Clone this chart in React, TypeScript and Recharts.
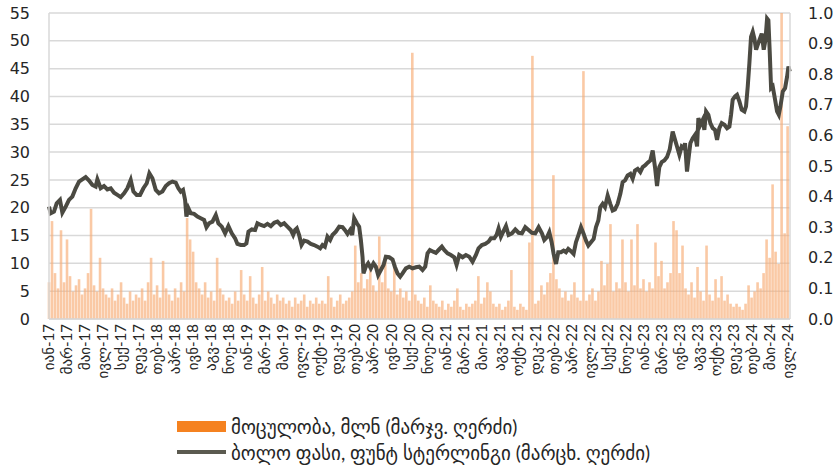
import { ComposedChart, Bar, Line, XAxis, YAxis, CartesianGrid } from "recharts";

// tick labels, one every 2.2 months starting Jan 2017
const tickLabels = [
  "იან-17", "მარ-17", "მაი-17", "ივლ-17", "სექ-17", "დეკ-17", "თებ-18", "აპრ-18", "ივნ-18", "აგვ-18",
  "ნოე-18", "იან-19", "მარ-19", "მაი-19", "ივლ-19", "ოქტ-19", "დეკ-19", "თებ-20", "აპრ-20", "ივნ-20",
  "სექ-20", "ნოე-20", "იან-21", "მარ-21", "მაი-21", "აგვ-21", "ოქტ-21", "დეკ-21", "თებ-22", "აპრ-22",
  "ივლ-22", "სექ-22", "ნოე-22", "იან-23", "მარ-23", "ივნ-23", "აგვ-23", "ოქტ-23", "დეკ-23", "თებ-24",
  "მაი-24", "ივლ-24",
];
const TICK_STEP = 2.2; // months between labels
const VOL_STEP = 0.3667; // months between volume samples

// closing price, [months since Jan 2017, GBP]
const price: [number, number][] = [
  [0, 20.2], [0.2, 19.0], [0.61, 19.3], [0.94, 20.8], [1.34, 21.4], [1.63, 19.1], [2.04, 20.2], [2.44, 21.4],
  [2.85, 22.0], [3.26, 23.5], [3.67, 24.7], [4.07, 25.1], [4.48, 25.5], [4.89, 24.9], [5.3, 24.1], [5.7, 23.8],
  [5.91, 25.1], [6.31, 23.5], [6.72, 23.9], [7.13, 23.3], [7.54, 23.5], [7.94, 22.7], [8.35, 22.3], [8.76, 21.9],
  [9.17, 22.6], [9.57, 23.5], [9.98, 25.0], [10.31, 22.9], [10.71, 22.3], [11.12, 22.3], [11.53, 23.5], [11.94, 24.4],
  [12.26, 26.2], [12.63, 25.3], [13.04, 23.2], [13.44, 22.6], [13.85, 22.9], [14.26, 23.9], [14.66, 24.4],
  [15.07, 24.7], [15.48, 24.5], [15.8, 23.5], [16.09, 22.9], [16.37, 23.2], [16.62, 21.4], [16.78, 18.4], [17.03, 19.9],
  [17.31, 19.0], [17.72, 18.9], [18.13, 18.4], [18.53, 18.1], [18.94, 17.8], [19.23, 16.5], [19.55, 17.2], [19.96, 17.5],
  [20.37, 18.7], [20.69, 17.2], [21.1, 16.6], [21.51, 15.4], [21.91, 16.7], [22.32, 15.4], [22.73, 14.5], [23.01, 13.5],
  [23.42, 13.3], [23.83, 13.3], [24.11, 13.6], [24.36, 15.7], [24.77, 16.1], [25.17, 16.0], [25.46, 17.2], [25.87, 16.9],
  [26.27, 16.7], [26.68, 17.1], [27.09, 16.7], [27.5, 17.3], [27.9, 17.5], [28.31, 16.9], [28.72, 17.2], [29.12, 16.6],
  [29.53, 16.0], [29.82, 15.1], [30.06, 16.0],
  [30.27, 16.3], [30.55, 15.1], [30.84, 13.3], [31.16, 14.1], [31.57, 13.9], [31.98, 13.5], [32.38, 13.3], [32.79, 13.0],
  [33.12, 12.7], [33.4, 13.3], [33.69, 13.0], [34.01, 14.8], [34.34, 14.2], [34.62, 15.1], [35.03, 15.7], [35.44, 16.6],
  [35.85, 16.5], [36.13, 16.0], [36.46, 15.3], [36.78, 16.0], [37.03, 15.1], [37.27, 18.1], [37.6, 17.2], [37.88, 16.6],
  [38.09, 14.2], [38.29, 11.2], [38.41, 8.2], [38.7, 9.4], [38.98, 10.0], [39.31, 9.1], [39.63, 10.0], [39.92, 9.4],
  [40.2, 7.9], [40.53, 8.8], [40.86, 9.7], [41.14, 11.2], [41.55, 11.1], [41.96, 10.7], [42.24, 9.4], [42.57, 8.2],
  [42.89, 7.6], [43.18, 8.2], [43.59, 9.1], [43.99, 9.4], [44.4, 9.1], [44.81, 9.3], [45.21, 9.4],
  [45.62, 8.8], [45.95, 9.4], [46.23, 11.8], [46.52, 12.4], [46.92, 12.1], [47.25, 11.9], [47.58, 12.4], [47.98, 13.0],
  [48.27, 12.4], [48.68, 11.8], [49.08, 11.5], [49.49, 11.1], [49.78, 9.7], [50.1, 11.5], [50.51, 11.1], [50.92, 11.5],
  [51.32, 11.2], [51.73, 10.3], [52.14, 11.5], [52.46, 12.7], [52.87, 13.3], [53.28, 13.5], [53.69, 13.9], [53.97, 14.5],
  [54.38, 14.5], [54.66, 15.1], [54.91, 16.3], [55.19, 14.8], [55.48, 15.7], [55.81, 16.7], [56.13, 15.1], [56.54, 15.4],
  [56.95, 16.1], [57.35, 15.5], [57.76, 15.4], [58.17, 16.5], [58.57, 16.0], [58.98, 15.5], [59.39, 15.4], [59.8, 16.5],
  [60.2, 15.4], [60.49, 14.2],
  [60.82, 14.7], [61.1, 15.6], [61.39, 13.8], [61.63, 11.7], [61.92, 9.9], [62.2, 12.0], [62.53, 12.0], [62.85, 12.3],
  [63.14, 12.0], [63.42, 12.6], [63.75, 12.2], [64.07, 11.7], [64.36, 13.8], [64.64, 15.0], [64.97, 16.5], [65.3, 15.3],
  [65.58, 14.1], [65.87, 13.2], [66.19, 13.8], [66.52, 14.4], [66.8, 16.5], [67.09, 17.7], [67.33, 20.1], [67.62, 20.7],
  [67.9, 20.1], [68.23, 22.2], [68.55, 20.7], [68.84, 19.5], [69.12, 19.7], [69.45, 20.7], [69.78, 22.5], [70.06, 24.6],
  [70.35, 24.9], [70.67, 25.8], [71.0, 26.1], [71.28, 25.2], [71.57, 26.7], [71.89, 27.0], [72.22, 26.4], [72.51, 27.3],
  [72.79, 27.6], [73.12, 28.1], [73.44, 28.5], [73.73, 30.3], [74.01, 27.3], [74.26, 23.9], [74.54, 27.3], [74.83, 28.2],
  [75.15, 28.5], [75.48, 29.1], [75.81, 30.5],
  [76.17, 33.7], [76.46, 32.2], [76.7, 31.0], [76.99, 29.5], [77.27, 31.0], [77.52, 30.7], [77.68, 31.6], [77.92, 26.5],
  [78.09, 28.6], [78.33, 31.6], [78.62, 32.5], [78.9, 33.1], [79.15, 31.0], [79.31, 36.1], [79.55, 34.9], [79.84, 35.8],
  [80.04, 34.0], [80.25, 37.3], [80.53, 36.7], [80.77, 35.2], [81.06, 34.3], [81.34, 34.0], [81.59, 32.2], [81.87, 34.3],
  [82.16, 35.2], [82.49, 34.9], [82.81, 34.3], [83.1, 34.6], [83.3, 36.7], [83.5, 39.4], [83.79, 40.0], [84.03, 40.3],
  [84.32, 39.1], [84.6, 37.6], [84.93, 37.3], [85.13, 38.2], [85.34, 41.8], [85.54, 46.0], [85.74, 50.7], [85.95, 51.6],
  [86.15, 50.4], [86.36, 48.4], [86.56, 49.3], [86.76, 50.1], [87.05, 51.3], [87.29, 48.4], [87.5, 50.1], [87.7, 54.0],
  [87.86, 53.7], [88.03, 47.8], [88.19, 41.5], [88.39, 41.8], [88.68, 39.4], [88.92, 37.3], [89.13, 36.7], [89.33, 38.2],
  [89.62, 40.9], [89.9, 41.5], [90.15, 43.6], [90.31, 45.4], [90.47, 44.5],
];

// traded volume, millions, one sample every VOL_STEP months
const volume = [
  0.12, 0.32, 0.15, 0.10, 0.29, 0.12, 0.26, 0.14, 0.09, 0.11,
  0.13, 0.08, 0.10, 0.15, 0.36, 0.11, 0.09, 0.20, 0.10, 0.08,
  0.07, 0.10, 0.06, 0.08, 0.12, 0.07, 0.05, 0.09, 0.06, 0.08,
  0.07, 0.10, 0.06, 0.12, 0.20, 0.08, 0.11, 0.07, 0.19, 0.10,
  0.08, 0.06, 0.10, 0.07, 0.12, 0.09, 0.33, 0.26, 0.22, 0.12,
  0.10, 0.08, 0.12, 0.07, 0.09, 0.06, 0.20, 0.10, 0.08, 0.06,
  0.07, 0.05, 0.09, 0.06, 0.16, 0.08, 0.06, 0.14, 0.07, 0.05,
  0.08, 0.17, 0.06, 0.09, 0.07, 0.05, 0.08, 0.06, 0.07, 0.05,
  0.06, 0.04, 0.07, 0.05, 0.06, 0.08, 0.04, 0.06, 0.05, 0.07,
  0.05, 0.06, 0.05, 0.14, 0.07, 0.04, 0.06, 0.08, 0.05, 0.06,
  0.07, 0.09, 0.24, 0.12, 0.15, 0.10, 0.13, 0.16, 0.11, 0.09,
  0.27, 0.12, 0.20, 0.10, 0.09, 0.18, 0.08, 0.10, 0.07, 0.09,
  0.06, 0.87, 0.08, 0.06, 0.05, 0.07, 0.04, 0.11, 0.06, 0.05,
  0.04, 0.06, 0.03, 0.05, 0.04, 0.06, 0.10, 0.04, 0.03, 0.05,
  0.04, 0.05, 0.06, 0.14, 0.05, 0.07, 0.12, 0.09, 0.05, 0.04,
  0.05, 0.03, 0.04, 0.06, 0.16, 0.04, 0.03, 0.05, 0.04, 0.03,
  0.25, 0.86, 0.05, 0.06, 0.11, 0.08, 0.12, 0.15, 0.47, 0.13,
  0.10, 0.07, 0.09, 0.06, 0.08, 0.12, 0.07, 0.06, 0.81, 0.06,
  0.08, 0.10, 0.06, 0.09, 0.19, 0.11, 0.18, 0.31, 0.09, 0.12,
  0.10, 0.26, 0.12, 0.09, 0.26, 0.11, 0.31, 0.10, 0.13, 0.09,
  0.12, 0.10, 0.25, 0.14, 0.19, 0.10, 0.12, 0.15, 0.32, 0.29,
  0.15, 0.24, 0.10, 0.08, 0.12, 0.07, 0.17, 0.09, 0.06, 0.24,
  0.08, 0.06, 0.13, 0.07, 0.14, 0.06, 0.08, 0.05, 0.04, 0.05,
  0.04, 0.03, 0.05, 0.11, 0.07, 0.09, 0.12, 0.10, 0.15, 0.26,
  0.20, 0.44, 0.22, 0.18, 1.0, 0.28, 0.63,
];

const leftTicks = [0, 5, 10, 15, 20, 25, 30, 35, 40, 45, 50, 55];
const rightTicks = [0, 0.1, 0.2, 0.3, 0.4, 0.5, 0.6, 0.7, 0.8, 0.9, 1.0];

const FONT = "Lato, 'DejaVu Sans', sans-serif";
const NUM_FONT = "'DejaVu Sans', sans-serif";
const TEXT = "#262626";
const GRID = "#d9d9d9";
const ORANGE = "#f58220";
const LINE = "#4b4a42";

const data = [
  ...price.map(([t, p]) => ({ t, price: p })),
  ...volume.map((v, i) => ({ t: +(i * VOL_STEP).toFixed(3), vol: v })),
].sort((a, b) => a.t - b.t);

const tickPos = tickLabels.map((_, i) => +(i * TICK_STEP).toFixed(2));

function MonthTick({ x, y, payload }: any) {
  const label = tickLabels[Math.round(payload.value / TICK_STEP)];
  return (
    <g transform={`translate(${x},${y})`}>
      <text
        x={-3}
        y={0}
        dy="0.35em"
        transform="rotate(-90)"
        textAnchor="end"
        fontSize={15}
        fill={TEXT}
        fontFamily={FONT}
      >
        {label}
      </text>
    </g>
  );
}

// thin volume stick, centred on its date whatever band size the numeric axis gives
function VolStick(props: any) {
  const { x, y, width, height } = props;
  if (height == null || !isFinite(height) || height <= 0) return null;
  const cx = x + (width || 0) / 2;
  return <rect x={cx - 1.3} y={y} width={2.6} height={height} fill="#f8ac74" fillOpacity={0.65} />;
}

export default function App() {
  return (
    <div style={{ position: "absolute", left: 0, top: 0, width: 840, height: 468, background: "#fff", fontFamily: FONT }}>
      <ComposedChart width={840} height={468} data={data} margin={{ top: 13, right: 0, bottom: 0, left: 0 }}>
        <CartesianGrid yAxisId="left" vertical={false} stroke={GRID} strokeWidth={1.5} />
        <XAxis
          dataKey="t"
          type="number"
          domain={[0, 90.5]}
          ticks={tickPos}
          interval={0}
          height={149}
          tick={<MonthTick />}
          tickLine={false}
          tickSize={0}
          axisLine={{ stroke: GRID, strokeWidth: 1.5 }}
        />
        <YAxis
          yAxisId="left"
          domain={[0, 55]}
          ticks={leftTicks}
          width={49}
          tickLine={false}
          tickSize={0}
          tickMargin={19}
          axisLine={{ stroke: GRID, strokeWidth: 1.5 }}
          tick={{ fontSize: 16, fill: TEXT, fontFamily: NUM_FONT }}
        />
        <YAxis
          yAxisId="right"
          orientation="right"
          domain={[0, 1]}
          ticks={rightTicks}
          width={50}
          tickLine={false}
          tickSize={0}
          tickMargin={18}
          axisLine={{ stroke: GRID, strokeWidth: 1.5 }}
          tickFormatter={(v: number) => v.toFixed(1)}
          tick={{ fontSize: 16, fill: TEXT, fontFamily: NUM_FONT }}
        />
        <Bar yAxisId="right" dataKey="vol" barSize={2} fill="#f8ac74" shape={<VolStick />} isAnimationActive={false} />
        <Line
          yAxisId="left"
          type="linear"
          dataKey="price"
          stroke={LINE}
          strokeWidth={4}
          dot={false}
          connectNulls
          isAnimationActive={false}
        />
      </ComposedChart>
      <div style={{ position: "absolute", left: 177, top: 413, fontSize: 19, color: TEXT }}>
        <div style={{ display: "flex", alignItems: "center", height: 26 }}>
          <span style={{ display: "inline-block", width: 49, height: 11, background: ORANGE, marginRight: 5 }} />
          <span>მოცულობა, მლნ (მარჯვ. ღერძი)</span>
        </div>
        <div style={{ display: "flex", alignItems: "center", height: 26 }}>
          <span style={{ display: "inline-block", width: 49, height: 3.5, background: "#5b5a50", marginRight: 5 }} />
          <span>ბოლო ფასი, ფუნტ სტერლინგი (მარცხ. ღერძი)</span>
        </div>
      </div>
    </div>
  );
}
